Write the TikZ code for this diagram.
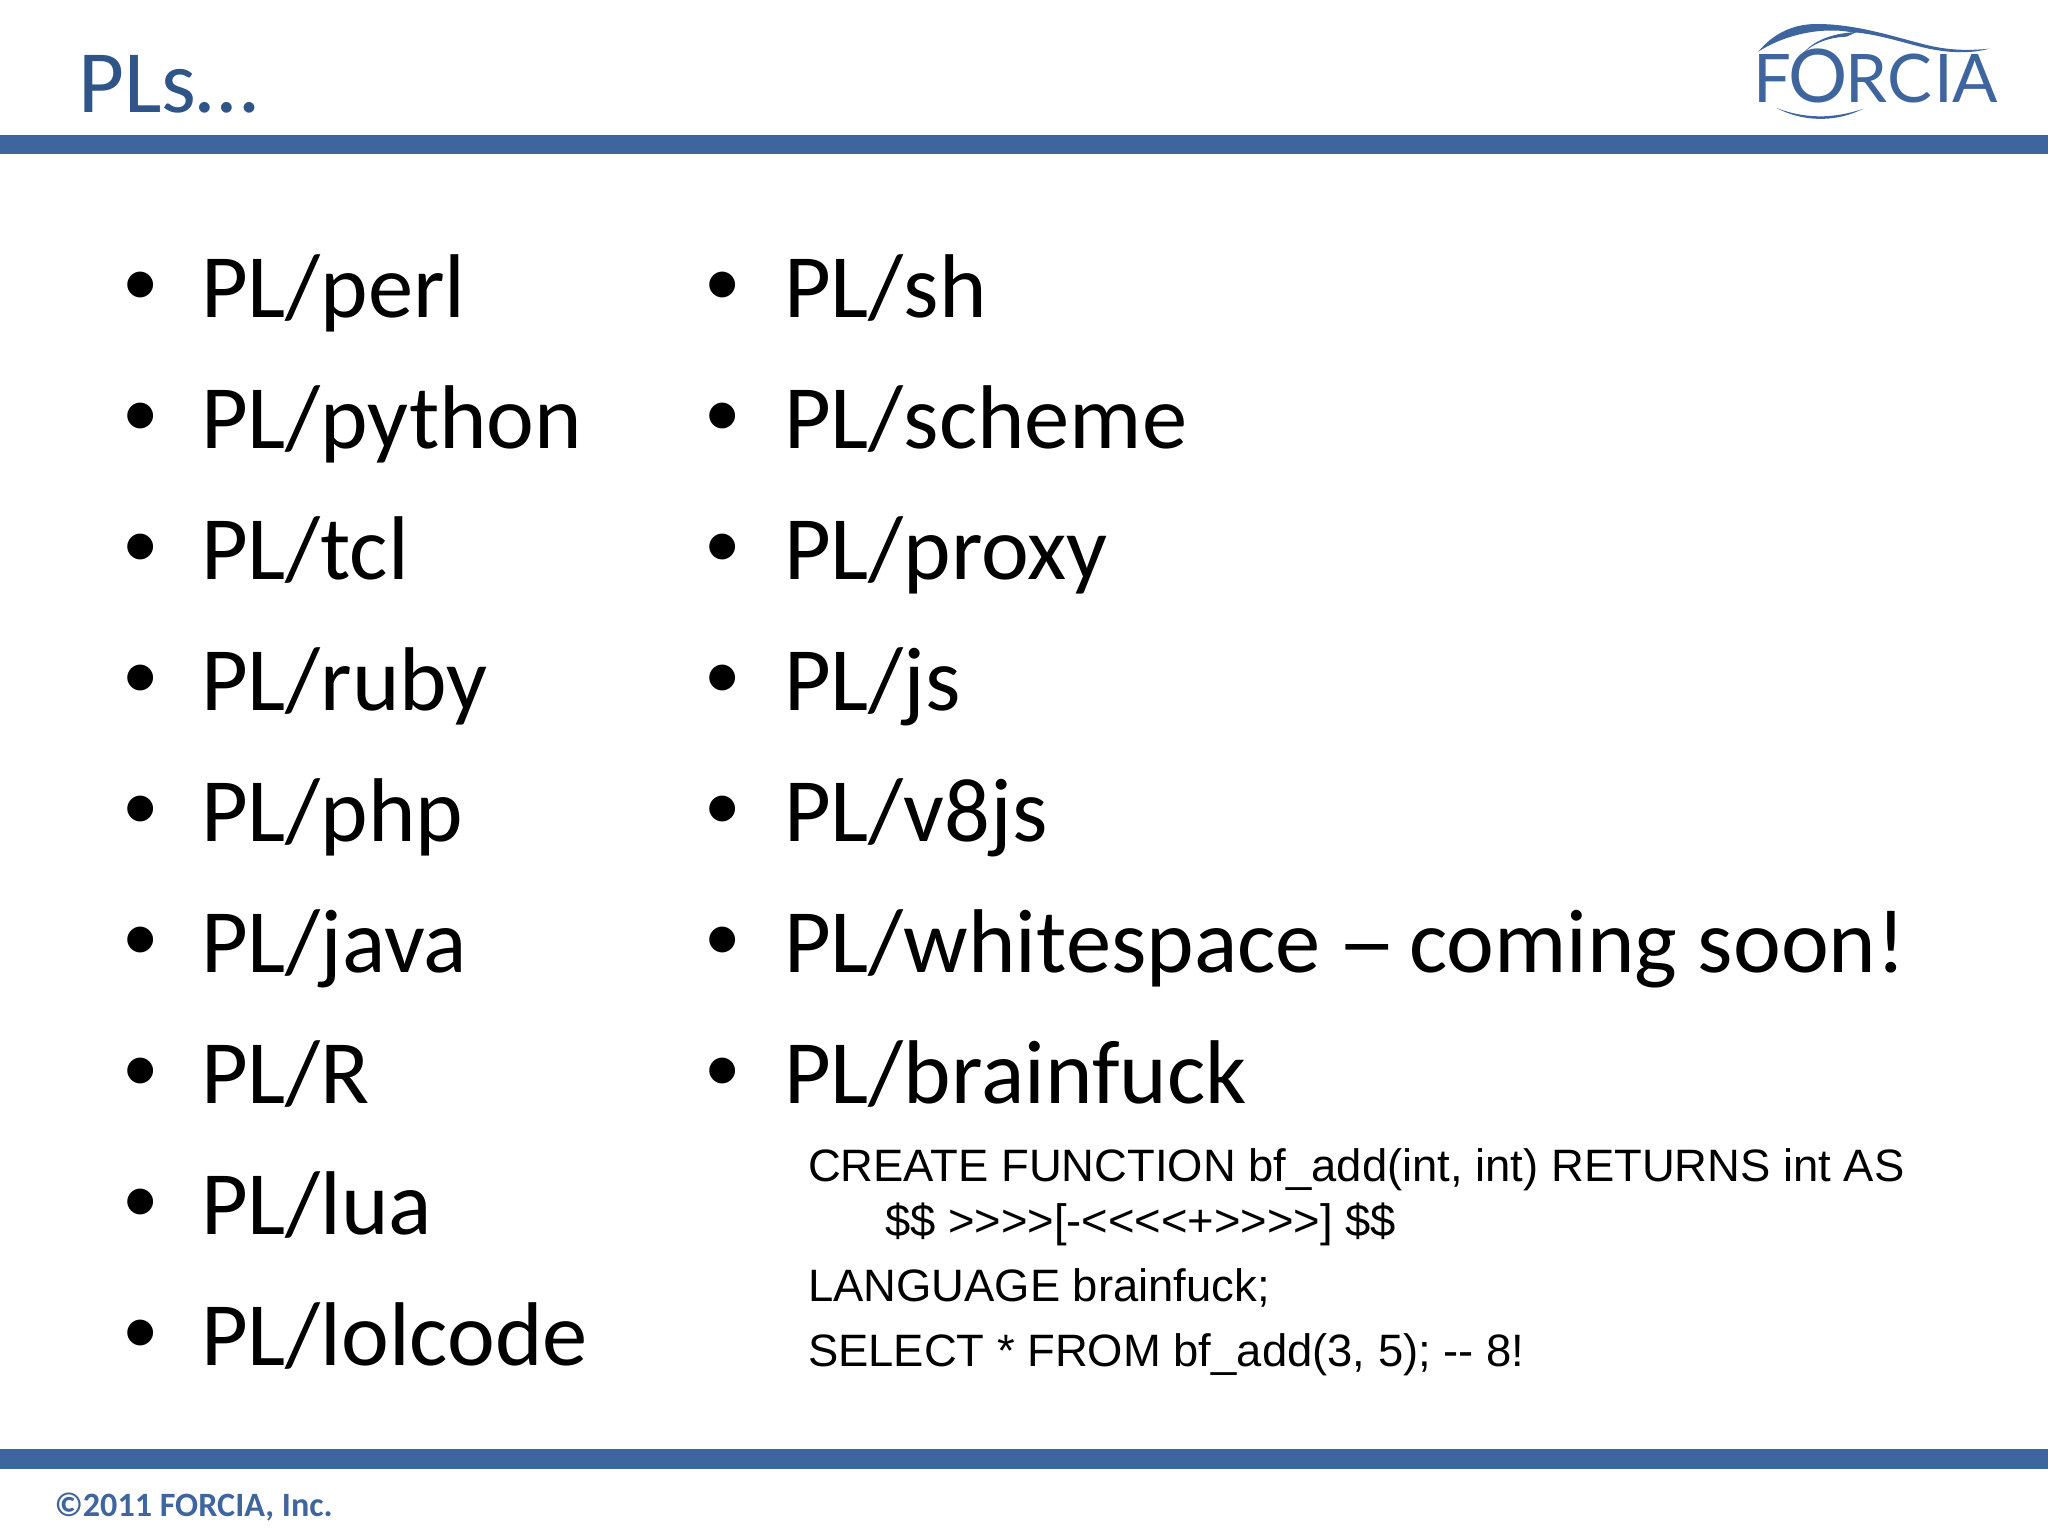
\documentclass[tikz,border=0pt]{standalone}
\usepackage{fontspec}
\setmainfont{Carlito}
\newfontfamily\arialfont{Liberation Sans}
\newfontfamily\logofont{Lato}
\definecolor{barblue}{HTML}{3F659F}
\definecolor{titleblue}{HTML}{2F5488}
\tikzset{
  txt/.style={inner sep=0pt,outer sep=0pt,anchor=base west},
  item/.style={txt,font=\fontsize{90.5}{96}\selectfont,text=black},
  bul/.style={txt,font=\fontsize{73}{80}\selectfont,text=black},
  code/.style={txt,font=\arialfont\fontsize{45.4}{50}\selectfont,text=black},
  bar/.style={fill=barblue,draw=none},
}
\begin{document}
\begin{tikzpicture}[x=1pt,y=-1pt]
\useasboundingbox (0,0) rectangle (2048,1536);
\fill[white] (0,0) rectangle (2048,1536);
\fill[bar] (0,135) rectangle (2048,154);
\fill[bar] (0,1449) rectangle (2048,1469);
\node[txt,text=titleblue,font=\fontsize{89}{94}\selectfont] (title) at (78,113) {PLs…};
\node[txt,text=barblue,font=\bfseries\fontsize{34.1}{38}\selectfont] (foot) at (54.5,1516) {©2011 FORCIA, Inc.};
% left column
\foreach \n/\t [count=\i from 0] in {a/PL\slash perl,b/PL\slash python,c/PL\slash tcl,d/PL\slash ruby,e/PL\slash php,f/PL\slash java,g/PL\slash R,h/PL\slash lua,i/PL\slash lolcode}{
  \node[bul] (lb\n) at (122.5,305+131*\i) {•};
  \node[item] (l\n) at (201,317+131*\i) {\t};
}
% right column
\foreach \n/\t [count=\i from 0] in {a/PL\slash sh,b/PL\slash scheme,c/PL\slash proxy,d/PL\slash js,e/PL\slash v8js,f/PL\slash whitespace \kern-4pt\scalebox{1.32}[1]{–}\kern-8pt{} coming soon!,g/PL\slash brainfuck}{
  \node[bul] (rb\n) at (704.5,305+131*\i) {•};
  \node[item] (r\n) at (784,317+131*\i) {\t};
}
\node[code] (c1) at (808,1181) {CREATE FUNCTION bf\_add(int, int) RETURNS int AS};
\node[code] (c2) at (885,1236) {\$\$ >>>>[-<<<<+>>>>] \$\$};
\node[code] (c3) at (808,1301) {LANGUAGE brainfuck;};
\node[code] (c4) at (808,1366) {SELECT * FROM bf\_add(3, 5); -- 8!};
% logo
\node[txt,text=barblue,font=\logofont\fontsize{67}{70}\selectfont] (logo) at (1753,103) {F\kern-2pt{\fontsize{74}{74}\selectfont O}\kern-3pt R\kern0pt C\kern3pt I\kern-1pt A};
\begin{scope}[shift={(1700,0)},x=0.3333pt,y=-0.3333pt]
\fill[barblue] (175,155) .. controls (220,100) and (280,72) .. (350,72)
  .. controls (470,72) and (580,110) .. (680,135)
  .. controls (750,152) and (810,152) .. (868,146)
  .. controls (810,162) and (740,160) .. (660,140)
  .. controls (590,122) and (520,100) .. (450,96)
  .. controls (370,82) and (260,100) .. (175,155) -- cycle;
\fill[barblue] (470,96) .. controls (390,100) and (330,125) .. (298,175)
  .. controls (325,135) and (380,112) .. (440,110) -- cycle;
\fill[barblue] (230,324) .. controls (300,362) and (400,372) .. (490,326)
  .. controls (400,358) and (310,356) .. (230,324) -- cycle;
\end{scope}
\end{tikzpicture}
\end{document}
